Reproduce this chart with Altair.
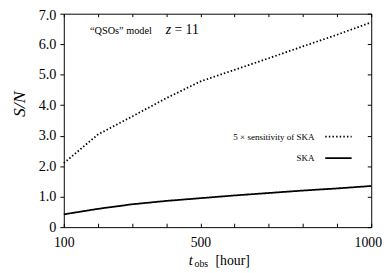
import altair as alt
import pandas as pd

# ---- data ----
t_hours = [100, 200, 300, 400, 500, 600, 700, 800, 900, 1000]
sn_ska5 = [2.10, 3.04, 3.63, 4.23, 4.78, 5.16, 5.54, 5.93, 6.31, 6.72]
sn_ska = [0.42, 0.60, 0.75, 0.86, 0.95, 1.04, 1.12, 1.20, 1.27, 1.35]
series_names = ["5 × sensitivity of SKA", "SKA"]
x_tick_values = [100, 200, 300, 400, 500, 600, 700, 800, 900, 1000]
x_label_values = [100, 500, 1000]
y_tick_values = [0, 1, 2, 3, 4, 5, 6, 7]
model_texts = ["“QSOs” model", "z", "= 11"]
xtitle_texts = ["t", "obs", "[hour]"]

df = pd.DataFrame({
    "t": t_hours + t_hours,
    "sn": sn_ska5 + sn_ska,
    "series": [series_names[0]] * len(t_hours) + [series_names[1]] * len(t_hours),
})

TOP = 3
W, H = 314, 218
FONT = "Liberation Serif"

xscale = alt.Scale(domain=[100, 1000], nice=False, zero=False)
yscale = alt.Scale(domain=[0, 7], nice=False, zero=True)

label_test = " || ".join(f"datum.value == {v}" for v in x_label_values)

x_main = alt.Axis(
    values=x_tick_values,
    labelExpr=f"({label_test}) ? format(datum.value, 'd') : ''",
    ticks=False, domain=False, grid=False, labelFlush=False, labelOverlap=False,
    labelFont=FONT, labelFontSize=14, labelColor="black", labelPadding=9,
    labelOffset={"condition": {"test": "datum.value == 1000", "value": -3.5}, "value": 0},
    title=None,
)
y_main = alt.Axis(
    values=y_tick_values,
    labelExpr="datum.value == 0 ? '0' : format(datum.value, '.1f')",
    ticks=True, tickSize=4, tickColor="black", tickWidth=1,
    domain=False, grid=False, labelFlush=False, labelOverlap=False,
    labelFont=FONT, labelFontSize=14.5, labelColor="black", labelPadding=4,
    labelOffset={"condition": {"test": "datum.value == 7", "value": 1.5}, "value": 0},
    title="S/N", titleFont=FONT, titleFontStyle="italic", titleFontWeight="normal",
    titleFontSize=18, titleColor="black", titleX=-45, titleY=92, titleAngle=270,
    titleAlign="center", titleBaseline="middle",
)
x_ticks_bottom = alt.Axis(orient="top", offset=-H, values=x_tick_values, labels=False,
                          domain=False, grid=False, ticks=True, tickSize=4,
                          tickColor="black", title=None)
x_ticks_top = alt.Axis(orient="bottom", offset=-H, values=x_tick_values, labels=False,
                       domain=False, grid=False, ticks=True, tickSize=3,
                       tickColor="black", title=None)
y_ticks_right = alt.Axis(orient="left", offset=-W, values=y_tick_values, labels=False,
                         domain=False, grid=False, ticks=True, tickSize=4,
                         tickColor="black", title=None)

lines = alt.Chart(df).mark_line(color="black", strokeWidth=1.8).encode(
    x=alt.X("t:Q", scale=xscale, axis=x_main),
    y=alt.Y("sn:Q", scale=yscale, axis=y_main),
    strokeDash=alt.StrokeDash(
        "series:N",
        scale=alt.Scale(domain=series_names, range=[[1.5, 2.2], [1, 0]]),
        legend=alt.Legend(
            title=None, orient="none", legendX=266, legendY=111,
            symbolType="stroke", symbolSize=729, symbolStrokeWidth=1.8,
            symbolStrokeColor="black", symbolOffset=0,
            labelFont=FONT, labelFontSize=9.2, labelColor="black",
            labelAlign="right", labelOffset={"expr": "-39"}, rowPadding=2, padding=0,
        ),
    ),
)

ticks1 = alt.Chart(df).mark_point(opacity=0).encode(
    x=alt.X("t:Q", scale=xscale, axis=x_ticks_bottom),
    y=alt.Y("sn:Q", scale=yscale, axis=y_ticks_right),
)
ticks2 = alt.Chart(df).mark_point(opacity=0).encode(
    x=alt.X("t:Q", scale=xscale, axis=x_ticks_top),
    y=alt.Y("sn:Q", scale=yscale, axis=None),
)


def label(text, x, y, size, style="normal", baseline="alphabetic"):
    return alt.Chart(alt.Data(values=[{}])).mark_text(
        font=FONT, fontSize=size, fontStyle=style, color="black",
        align="left", baseline=baseline,
    ).encode(x=alt.value(x), y=alt.value(y), text=alt.value(text))


# positions relative to the plot's top-left corner (page x 65, page y 8 + TOP)
texts = [
    label(model_texts[0], 26.7, 20.5, 10.5),
    label(model_texts[1], 104, 20.5, 14, style="italic"),
    label(model_texts[2], 113, 20.5, 14),
    label(xtitle_texts[0], 127.7, 257, 15, style="italic"),
    label(xtitle_texts[1], 133.5, 259, 10),
    label(xtitle_texts[2], 155, 257, 14),
]

chart = alt.layer(lines, ticks1, ticks2, *texts).resolve_axis(
    x="independent", y="independent"
).properties(
    width=W, height=H,
    autosize=alt.AutoSizeParams(type="none"),
    padding={"left": 57, "top": TOP, "right": 11, "bottom": 44},
).configure_view(stroke="black", strokeWidth=1)

chart.save("out.html", embed_options={"renderer": "svg", "actions": False})
